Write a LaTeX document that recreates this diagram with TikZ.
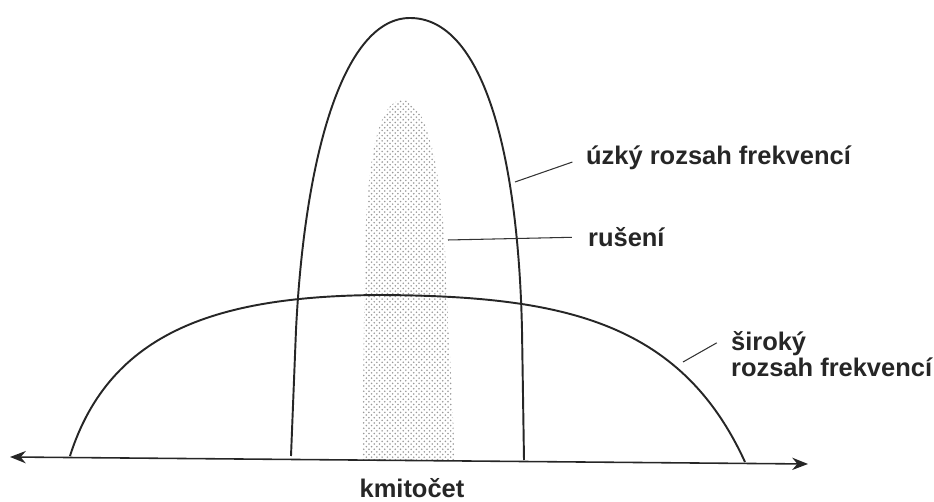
\documentclass[tikz,border=0pt]{standalone}
\usepackage{fontspec}
\setmainfont{Liberation Sans}
\usetikzlibrary{arrows.meta,patterns}
\begin{document}
\begin{tikzpicture}[x=0.02cm, y=-0.02cm,
        curve/.style={line width=1.1pt, black!85},
        label/.style={anchor=west, font=\fontsize{14.5}{15}\selectfont\bfseries, text=black!85, inner sep=1pt},
        leader/.style={line width=0.6pt, black!80}]
        \useasboundingbox (0,0) rectangle (934,502);

        % Interference
        \fill[pattern=crosshatch dots, pattern color=gray!80] (362,460) -- (365,250) .. controls (368,130) and (385,100) .. (403,100) .. controls (425,100) and (440,160) .. (445,250) -- (455,460) -- cycle;

        % Wide band
        \draw[curve] (70,456) .. controls (110,330) and (220,296) .. (380,295) .. controls (560,296) and (680,320) .. (745,462);

        % Narrow band
        \draw[curve] (291,456) -- (296,330) .. controls (305,150) and (345,18) .. (410,18) .. controls (482,18) and (518,150) .. (522,330) -- (524,460);

        % Axis
        \draw[curve, line width=0.9pt, {Stealth[length=9pt,width=7pt]}-{Stealth[length=9pt,width=7pt]}] (10,457) -- (808,464);

        % Labels
        \node[label] (lblNarrow) at (584,158) {úzký rozsah frekvencí};
        \node[label] (lblNoise) at (586,237) {rušení};
        \node[label, align=left] (lblWide) at (729,354) {široký\\rozsah frekvencí};
        \node[label, anchor=center] (lblAxis) at (412,488) {kmitočet};

        \coordinate (pNarrow) at (515,182);
        \coordinate (pNoise) at (448,240);
        \coordinate (pWide) at (683,362);
        \draw[leader, shorten >=7pt] (pNarrow) -- (lblNarrow.west);
        \draw[leader, shorten >=8pt] (pNoise) -- (lblNoise.west);
        \draw[leader, shorten >=8pt] (pWide) -- (lblWide.170);
    \end{tikzpicture}
\end{document}
